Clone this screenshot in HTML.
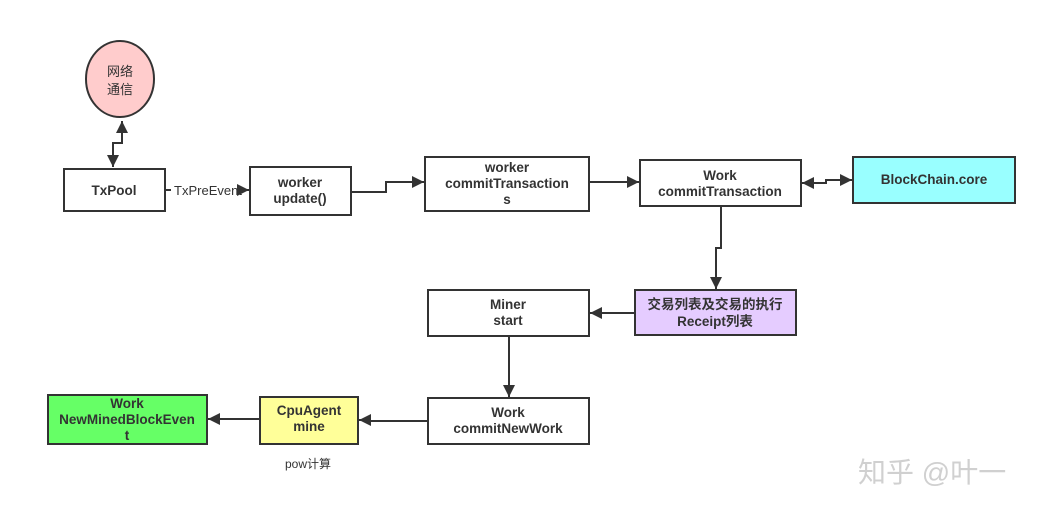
<!DOCTYPE html>
<html><head><meta charset="utf-8"><style>
html,body{margin:0;padding:0;background:#fff;}
svg{display:block;}
text{font-family:"Liberation Sans","Noto Sans CJK SC",sans-serif;fill:#333;}
.b{font-weight:bold;font-size:13.5px;}
</style></head><body>
<svg width="1047" height="515" viewBox="0 0 1047 515" xmlns="http://www.w3.org/2000/svg">
<defs>
<marker id="a" viewBox="0 0 10 10" refX="10" refY="5" markerWidth="6.5" markerHeight="6" orient="auto-start-reverse"><path d="M0,0L10,5L0,10z" fill="#333"/></marker>
</defs>
<g stroke="#333" stroke-width="2" fill="none">
<path d="M113,167 V143 H122 V121" marker-start="url(#a)" marker-end="url(#a)"/>
<path d="M165,190 H171"/><path d="M245,190 H249" marker-end="url(#a)"/>
<path d="M351,192 H386 V182 H424" marker-end="url(#a)"/>
<path d="M589,182 H639" marker-end="url(#a)"/>
<path d="M802,183 H826 V180 H852" marker-start="url(#a)" marker-end="url(#a)"/>
<path d="M721,206 V248 H716 V289" marker-end="url(#a)"/>
<path d="M635,313 H590" marker-end="url(#a)"/>
<path d="M509,336 V397" marker-end="url(#a)"/>
<path d="M428,421 H370 V420 H359" marker-end="url(#a)"/>
<path d="M260,419 H208" marker-end="url(#a)"/>
</g>
<g stroke="#333" stroke-width="2">
<ellipse cx="120" cy="79" rx="34" ry="38" fill="#ffcccc"/>
<rect x="64" y="169" width="101" height="42" fill="#fff"/>
<rect x="250" y="167" width="101" height="48" fill="#fff"/>
<rect x="425" y="157" width="164" height="54" fill="#fff"/>
<rect x="640" y="160" width="161" height="46" fill="#fff"/>
<rect x="853" y="157" width="162" height="46" fill="#99ffff"/>
<rect x="635" y="290" width="161" height="45" fill="#e5ccff"/>
<rect x="428" y="290" width="161" height="46" fill="#fff"/>
<rect x="428" y="398" width="161" height="46" fill="#fff"/>
<rect x="260" y="397" width="98" height="47" fill="#ffff99"/>
<rect x="48" y="395" width="159" height="49" fill="#66ff66"/>
</g>
<text x="120" y="76" font-size="13" text-anchor="middle">网络</text>
<text x="120" y="94" font-size="13" text-anchor="middle">通信</text>
<text class="b" x="114" y="195" text-anchor="middle">TxPool</text>
<text x="208" y="195" font-size="13" text-anchor="middle">TxPreEvent</text>
<text class="b" x="300" y="187" text-anchor="middle">worker</text>
<text class="b" x="300" y="203" text-anchor="middle">update()</text>
<text class="b" x="507" y="172" text-anchor="middle">worker</text>
<text class="b" x="507" y="188" text-anchor="middle">commitTransaction</text>
<text class="b" x="507" y="204" text-anchor="middle">s</text>
<text class="b" x="720" y="180" text-anchor="middle">Work</text>
<text class="b" x="720" y="196" text-anchor="middle">commitTransaction</text>
<text class="b" x="934" y="184" text-anchor="middle">BlockChain.core</text>
<text class="b" x="715" y="309" text-anchor="middle">交易列表及交易的执行</text>
<text class="b" x="715" y="326" text-anchor="middle">Receipt列表</text>
<text class="b" x="508" y="309" text-anchor="middle">Miner</text>
<text class="b" x="508" y="325" text-anchor="middle">start</text>
<text class="b" x="508" y="417" text-anchor="middle">Work</text>
<text class="b" x="508" y="433" text-anchor="middle">commitNewWork</text>
<text class="b" x="309" y="415" text-anchor="middle">CpuAgent</text>
<text class="b" x="309" y="431" text-anchor="middle">mine</text>
<text class="b" x="127" y="408" text-anchor="middle">Work</text>
<text class="b" x="127" y="424" text-anchor="middle">NewMinedBlockEven</text>
<text class="b" x="127" y="440" text-anchor="middle">t</text>
<text x="308" y="468" font-size="12" text-anchor="middle">pow计算</text>
<text x="858" y="482" font-size="28" style="fill:#d0d0d0">知乎 @叶一</text>
</svg>
</body></html>
